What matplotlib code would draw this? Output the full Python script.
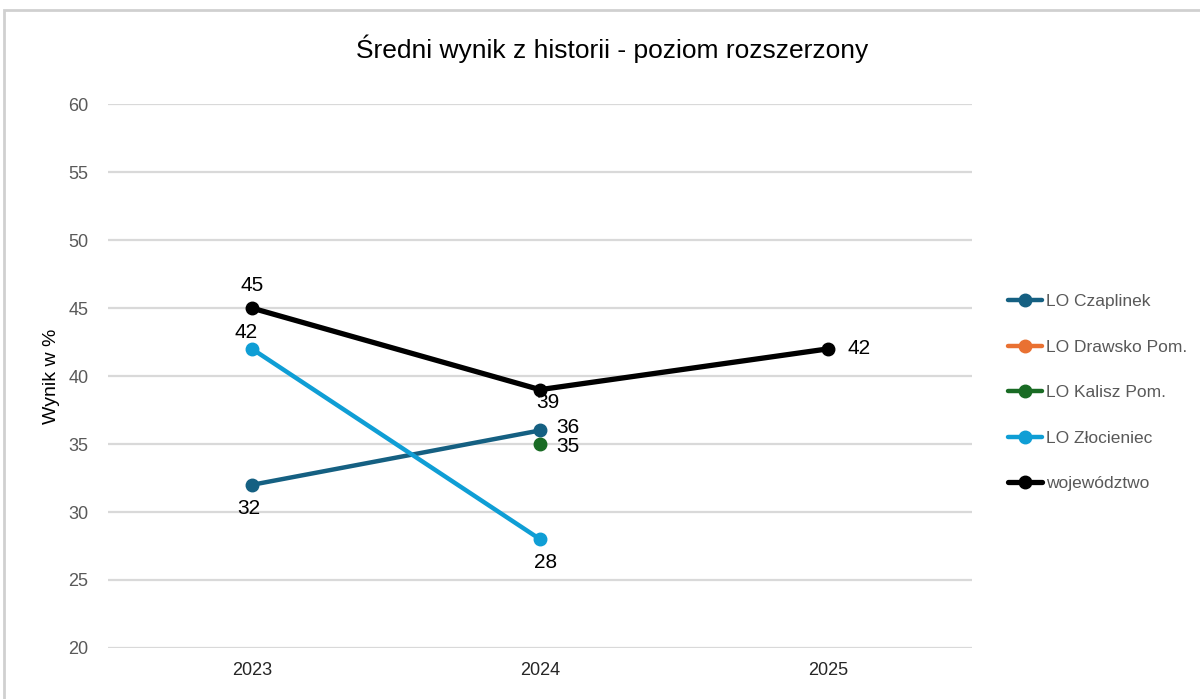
#!/usr/bin/env python3
import matplotlib
matplotlib.use('Agg')
import matplotlib.pyplot as plt
from matplotlib.patches import Rectangle
import numpy as np

years = ['2023', '2024', '2025']
czaplinek = [32, 36, np.nan]
drawsko = [np.nan, np.nan, np.nan]
kalisz = [np.nan, 35, np.nan]
zlocieniec = [42, 28, np.nan]
wojewodztwo = [45, 39, 42]

series_names = ['LO Czaplinek', 'LO Drawsko Pom.', 'LO Kalisz Pom.', 'LO Złocieniec', 'województwo']
series_vals = [czaplinek, drawsko, kalisz, zlocieniec, wojewodztwo]
colors = ['#156082', '#E97132', '#196B24', '#0F9ED5', '#000000']
widths = [3.2, 3.2, 3.2, 3.2, 3.8]
# data label offsets in points: (series, point) -> (dx, dy, ha)
label_off = {
    (0, 0): (-2, -17, 'center'), (0, 1): (12, 2, 'left'),
    (2, 1): (12, -2, 'left'),
    (3, 0): (-4, 12, 'center'), (3, 1): (4, -16.5, 'center'),
    (4, 0): (0, 16, 'center'), (4, 1): (6, -9, 'center'), (4, 2): (14, 0, 'left'),
}

plt.rcParams['font.family'] = ['Liberation Sans', 'DejaVu Sans']

fig = plt.figure(figsize=(12, 6.99), dpi=100)
ax = fig.add_axes([0.09, 0.073, 0.72, 0.778])

x = np.arange(len(years))
for i, (name, vals) in enumerate(zip(series_names, series_vals)):
    ax.plot(x, vals, color=colors[i], linewidth=widths[i], marker='o',
            markersize=9, label=name, solid_capstyle='round', zorder=3)
    for j, v in enumerate(vals):
        if np.isnan(v) or (i, j) not in label_off:
            continue
        dx, dy, ha = label_off[(i, j)]
        ax.annotate(f'{v:g}', (j, v), xytext=(dx, dy), textcoords='offset points',
                    ha=ha, va='center', fontsize=15, color='#000000', zorder=4)

ax.set_xlim(-0.5, 2.5)
ax.set_ylim(20, 60)
ax.set_yticks(range(20, 61, 5))
ax.set_xticks(x)
ax.set_xticklabels(years)
ax.grid(axis='y', color='#d9d9d9', linewidth=1.6, zorder=0)
ax.set_axisbelow(True)
for s in ax.spines.values():
    s.set_visible(False)
ax.tick_params(axis='both', length=0, labelsize=13)
ax.tick_params(axis='y', labelcolor='#595959', pad=14)
ax.tick_params(axis='x', labelcolor='#262626', pad=10)
ax.set_ylabel('Wynik w %', fontsize=14, color='#000000', labelpad=6)

fig.suptitle('Średni wynik z historii - poziom rozszerzony', x=0.51, y=0.95,
             fontsize=19, color='#000000')

ax.legend(loc='center left', bbox_to_anchor=(0.834, 0.438), bbox_transform=fig.transFigure,
          frameon=False, fontsize=12.5, labelcolor='#595959', labelspacing=1.75,
          handlelength=2.0, handletextpad=0.2, borderaxespad=0)

fig.patches.append(Rectangle((4 / 1200, -0.1), 1.2, 1.1 - 10 / 699, transform=fig.transFigure,
                             fill=False, edgecolor='#d0d0d0', linewidth=2))

fig.savefig('out.png', dpi=100)
